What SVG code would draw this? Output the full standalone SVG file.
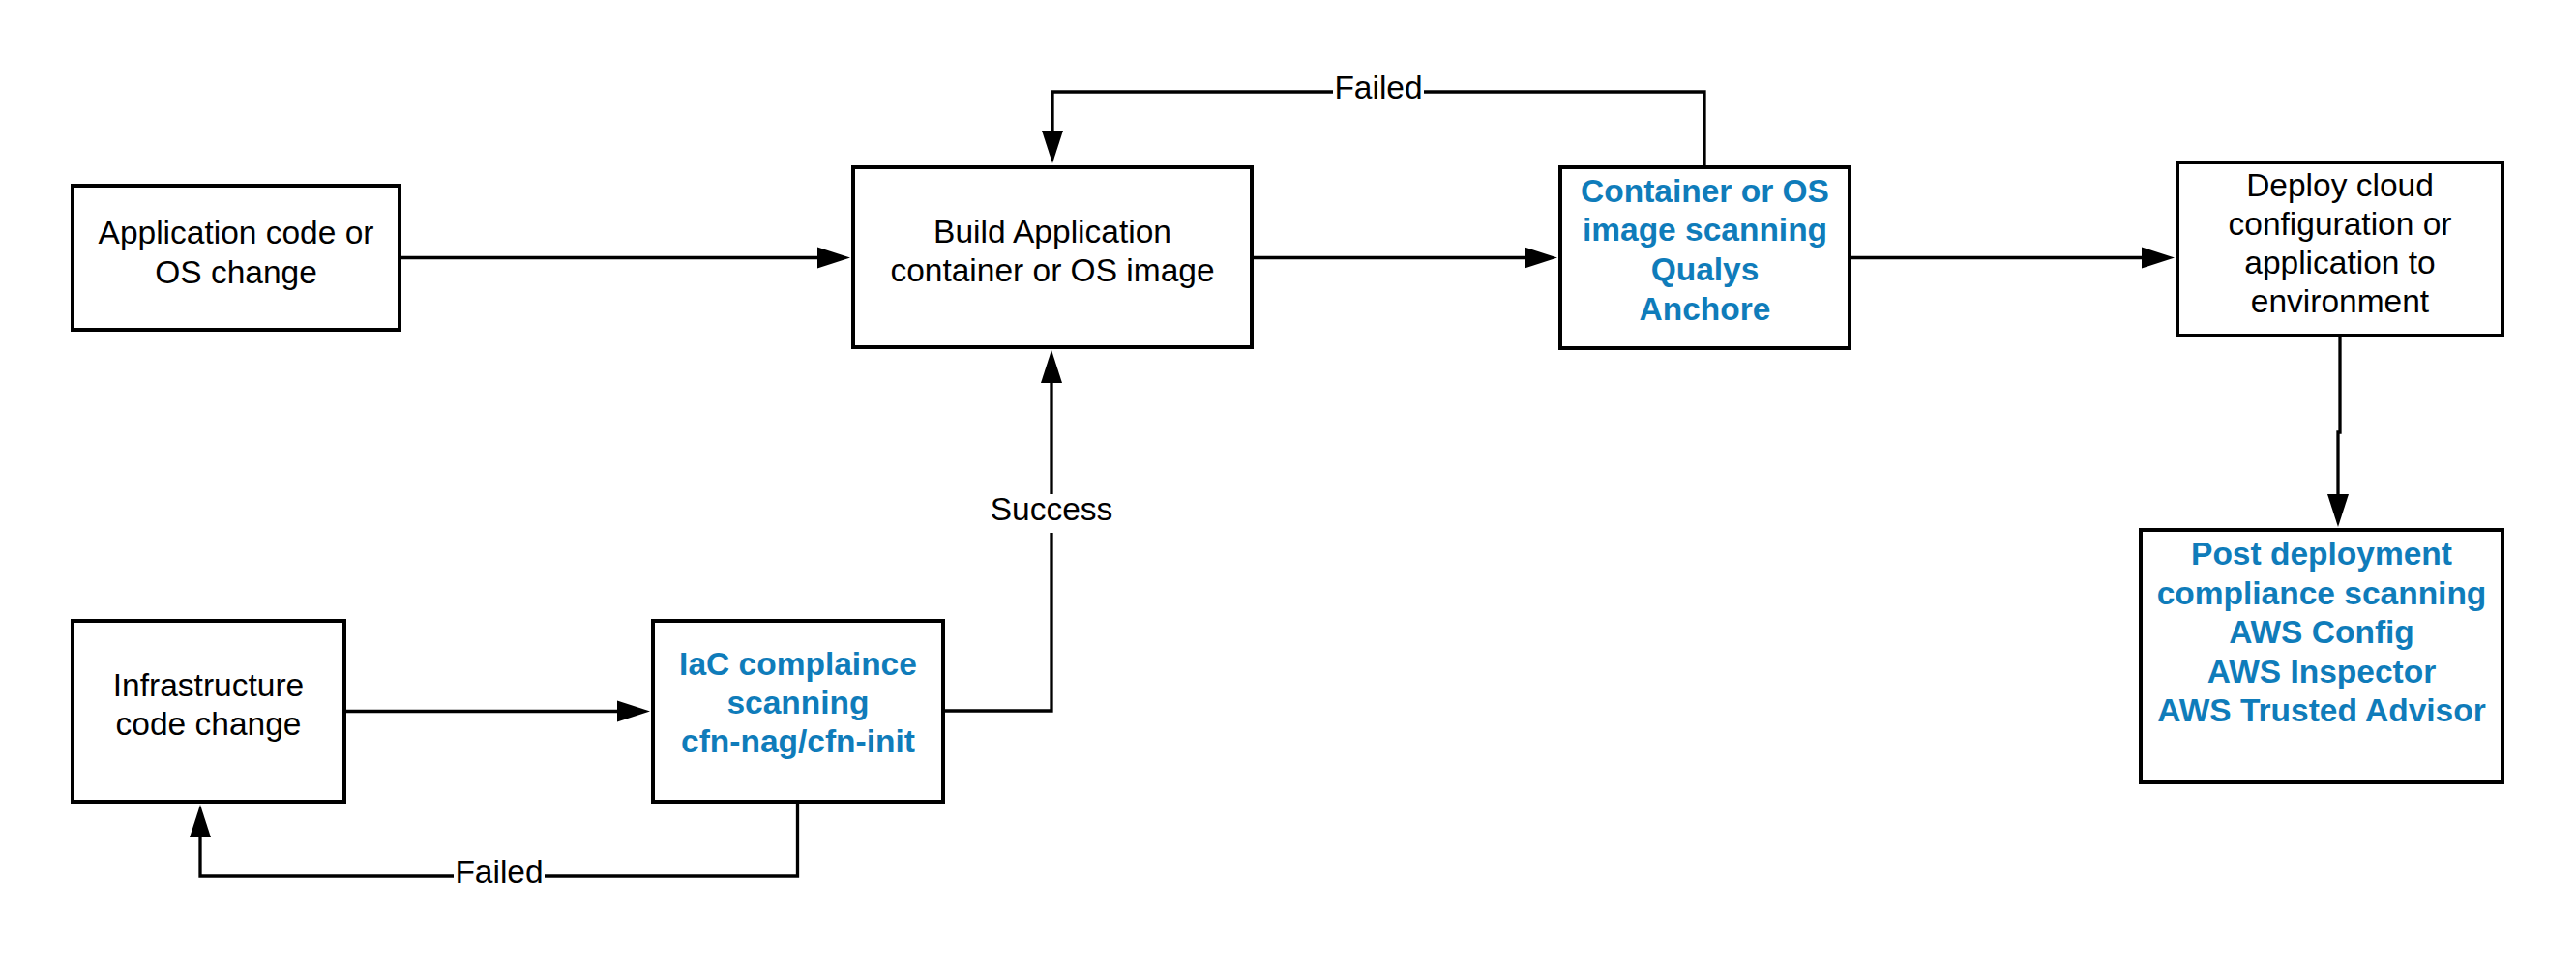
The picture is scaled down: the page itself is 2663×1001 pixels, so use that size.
<svg xmlns="http://www.w3.org/2000/svg" width="2663" height="1001" viewBox="0 0 2663 1001">
<style>
.box{fill:#ffffff;stroke:#000000;stroke-width:4}
.t{font-family:"Liberation Sans",Arial,sans-serif;font-size:33.5px;fill:#000000;text-anchor:middle}
.b{font-family:"Liberation Sans",Arial,sans-serif;font-size:33.5px;font-weight:bold;fill:#0f7cba;text-anchor:middle}
.ln{fill:none;stroke:#000000;stroke-width:3.3;marker-end:url(#ah)}
.lbl{font-family:"Liberation Sans",Arial,sans-serif;font-size:33.5px;fill:#000000;text-anchor:middle}
</style>
<defs>
<marker id="ah" markerUnits="userSpaceOnUse" markerWidth="36" markerHeight="24" refX="1" refY="11" orient="auto" overflow="visible">
<path d="M0,0 L34,11 L0,22 Z" fill="#000000"/>
</marker>
</defs>
<rect width="2663" height="1001" fill="#ffffff"/>

<g id="connectors">
<path class="ln" d="M413,266.5 H846"/>
<path class="ln" d="M1294,266.5 H1577"/>
<path class="ln" d="M1912,266.5 H2215"/>
<path class="ln" d="M2419,347 V447 H2417 V512"/>
<path class="ln" d="M1762,173 V95 H1088 V136"/>
<path class="ln" d="M356,735.5 H639"/>
<path class="ln" d="M975,735 H1087 V395"/>
<path class="ln" d="M824.5,829 V906 H207 V865"/>
<rect x="1378" y="80" width="94" height="28" fill="#ffffff"/>
<text class="lbl" x="1425" y="102">Failed</text>
<rect x="1021" y="511" width="132" height="40" fill="#ffffff"/>
<text class="lbl" x="1087" y="537.7">Success</text>
<rect x="469" y="890" width="94" height="28" fill="#ffffff"/>
<text class="lbl" x="516" y="912.5">Failed</text>
</g>

<g id="app">
<rect class="box" x="75" y="192" width="338" height="149"/>
<text class="t" x="244" y="252">Application code or</text>
<text class="t" x="244" y="292.5">OS change</text>
</g>

<g id="build">
<rect class="box" x="882" y="173" width="412" height="186"/>
<text class="t" x="1088" y="251">Build Application</text>
<text class="t" x="1088" y="290.7">container or OS image</text>
</g>

<g id="container-scan">
<rect class="box" x="1613" y="173" width="299" height="187"/>
<text class="b" x="1762.5" y="208.5">Container or OS</text>
<text class="b" x="1762.5" y="249.2">image scanning</text>
<text class="b" x="1762.5" y="289.9">Qualys</text>
<text class="b" x="1762.5" y="330.5">Anchore</text>
</g>

<g id="deploy">
<rect class="box" x="2251" y="168" width="336" height="179"/>
<text class="t" x="2419" y="202.7">Deploy cloud</text>
<text class="t" x="2419" y="242.9">configuration or</text>
<text class="t" x="2419" y="283.1">application to</text>
<text class="t" x="2419" y="323.3">environment</text>
</g>

<g id="post-deploy">
<rect class="box" x="2213" y="548" width="374" height="261"/>
<text class="b" x="2400" y="584.3">Post deployment</text>
<text class="b" x="2400" y="624.7">compliance scanning</text>
<text class="b" x="2400" y="665.1">AWS Config</text>
<text class="b" x="2400" y="705.5">AWS Inspector</text>
<text class="b" x="2400" y="745.9">AWS Trusted Advisor</text>
</g>

<g id="infra">
<rect class="box" x="75" y="642" width="281" height="187"/>
<text class="t" x="215.5" y="720">Infrastructure</text>
<text class="t" x="215.5" y="760">code change</text>
</g>

<g id="iac-scan">
<rect class="box" x="675" y="642" width="300" height="187"/>
<text class="b" x="825" y="698.3">IaC complaince</text>
<text class="b" x="825" y="738.3">scanning</text>
<text class="b" x="825" y="778.3">cfn-nag/cfn-init</text>
</g>
</svg>
